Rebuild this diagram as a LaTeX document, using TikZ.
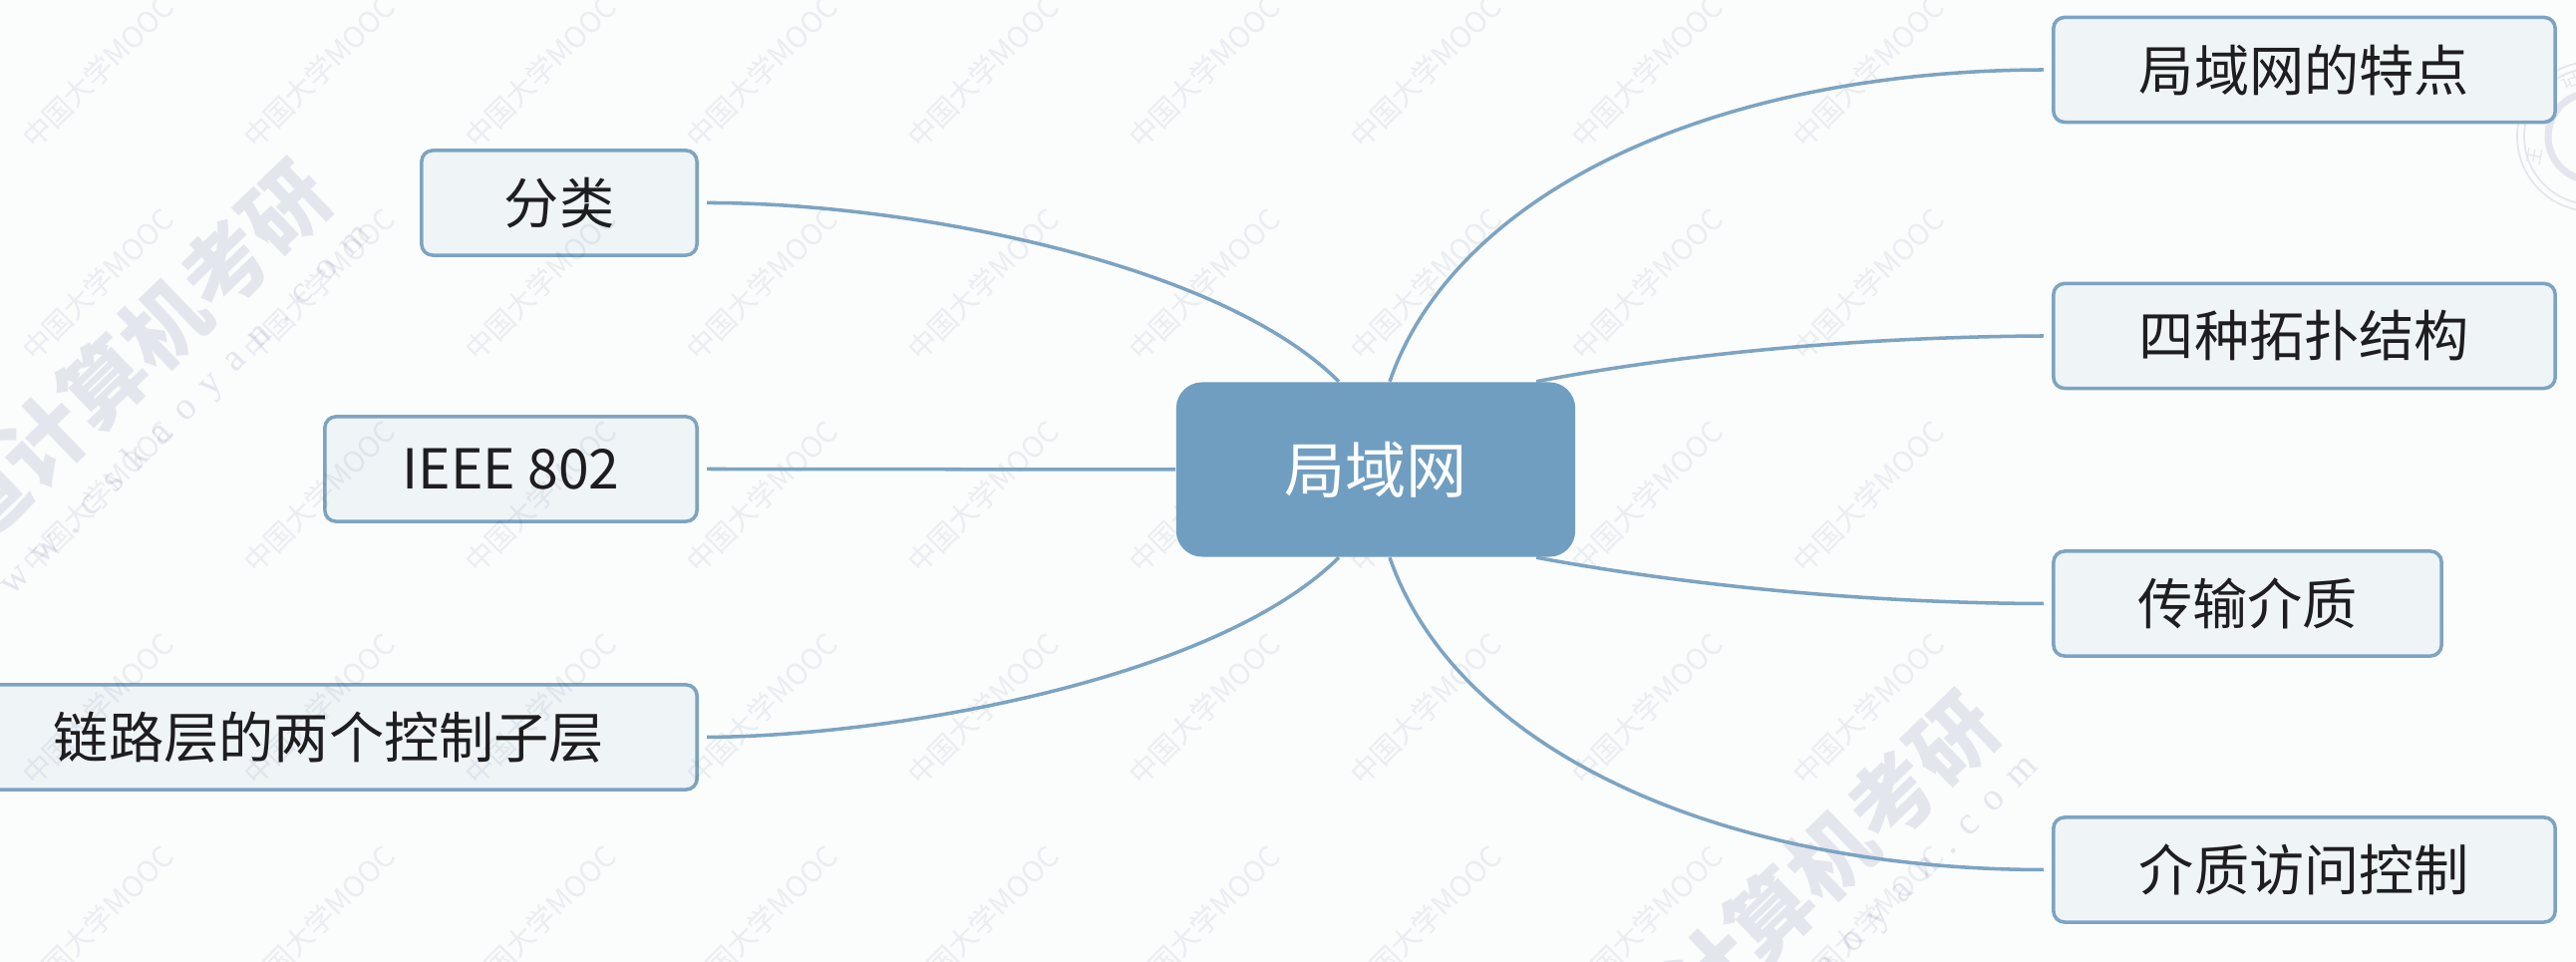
\documentclass[tikz,border=0pt]{standalone}
\usepackage{fontspec}
\setmainfont{Noto Sans CJK SC}
\newfontfamily\urlfont[LetterSpace=42]{Liberation Serif}
\usepackage{xcolor}
\definecolor{mmblue}{RGB}{112,158,192}
\definecolor{mmline}{RGB}{124,164,194}
\definecolor{mmpale}{RGB}{239,244,247}
\definecolor{mmpage}{RGB}{251,252,252}
\definecolor{mminkk}{RGB}{30,30,32}
\definecolor{mmmark}{RGB}{228,230,238}
\definecolor{mmtile}{RGB}{238,240,244}
\usetikzlibrary{arrows.meta,positioning,calc}
\tikzset{
  rootnode/.style={fill=mmblue, rounded corners=0.26cm, text=white,
                   font=\fontsize{17.4}{20}\selectfont,
                   minimum width=4cm, minimum height=1.75cm, inner sep=0pt},
  leaf/.style={draw=mmline, line width=1pt, fill=mmpale, rounded corners=0.11cm,
               text=mminkk, font=\fontsize{15.7}{18}\selectfont,
               minimum height=1.05cm, inner sep=0pt, outer sep=0.1cm},
  link/.style={draw=mmline, line width=1pt},
  tilemark/.style={rotate=45, text=mmtile, blend mode=multiply, inner sep=0pt,
                   font=\fontsize{8.2}{10}\selectfont},
  bigmark/.style={rotate=44, text=mmmark, inner sep=0pt,
                  font=\fontsize{24}{28}\selectfont\bfseries},
  urlmark/.style={rotate=45, text=mmmark, inner sep=0pt,
                  font=\fontsize{11}{13}\selectfont\urlfont},
}
\begin{document}
\begin{tikzpicture}[x=0.01cm, y=-0.01cm]

% Page
\path[use as bounding box, fill=mmpage] (0,0) rectangle (2584,965);

% Big marks
\node[bigmark] (bigone) at (104,384) {王道计算机考研};
\node[urlmark] (urlone) at (171,427) {www.cskaoyan.com};
\node[bigmark] (bigtwo) at (1776,917) {王道计算机考研};
\node[urlmark] (urltwo) at (1843,960) {www.cskaoyan.com};

% Stamp
\draw[mmmark, line width=0.5pt] (2600,137) circle (75);
\draw[mmmark, line width=0.5pt] (2600,137) circle (68);
\draw[mmmark, line width=2pt] (2600,137) circle (44);
\node[mmmark, rotate=80, font=\fontsize{5}{6}\selectfont] (stampa) at (2543,157) {王};
\node[mmmark, rotate=45, font=\fontsize{5}{6}\selectfont] (stampb) at (2547,110) {道};
\node[mmmark, rotate=20, font=\fontsize{5}{6}\selectfont] (stampc) at (2577,80) {记};

% Left side
\node[leaf, minimum width=2.76cm] (sort) at (561,203.5) {分类};
\node[leaf, minimum width=3.73cm] (ieee) at (512.5,470.5) {IEEE 802};
\node[leaf, minimum width=7.38cm] (sublayer) at (330,739.5) {链路层的两个控制子层};

% Right side
\node[leaf, minimum width=5.03cm] (feature) at (2311.5,70) {局域网的特点};
\node[leaf, minimum width=5.03cm] (topology) at (2311.5,337) {四种拓扑结构};
\node[leaf, minimum width=3.89cm] (medium) at (2254.5,605.5) {传输介质};
\node[leaf, minimum width=5.03cm] (access) at (2311.5,872.5) {介质访问控制};

% Tiled marks
\foreach \i in {0,...,8}
  \foreach \j in {0,...,4}
    \node[tilemark] (tile\i\j) at (98+222*\i,72+213*\j) {中国大学MOOC};

% Centre
\node[rootnode] (lan) at (1380,471) {局域网};

% Connectors
\draw[link] (sort.east) .. controls (900,203) and (1220,260) .. ([xshift=-0.37cm]lan.north);
\draw[link] (ieee.east) -- (lan.west);
\draw[link] (sublayer.east) .. controls (900,738) and (1220,681) .. ([xshift=-0.37cm]lan.south);
\draw[link] (feature.west) .. controls (1720,71) and (1460,192) .. ([xshift=0.14cm]lan.north);
\draw[link] (topology.west) .. controls (1860,338) and (1680,356) .. ([xshift=1.61cm]lan.north);
\draw[link] (medium.west) .. controls (1860,605) and (1680,585) .. ([xshift=1.61cm]lan.south);
\draw[link] (access.west) .. controls (1720,872) and (1460,750) .. ([xshift=0.14cm]lan.south);

\end{tikzpicture}
\end{document}
